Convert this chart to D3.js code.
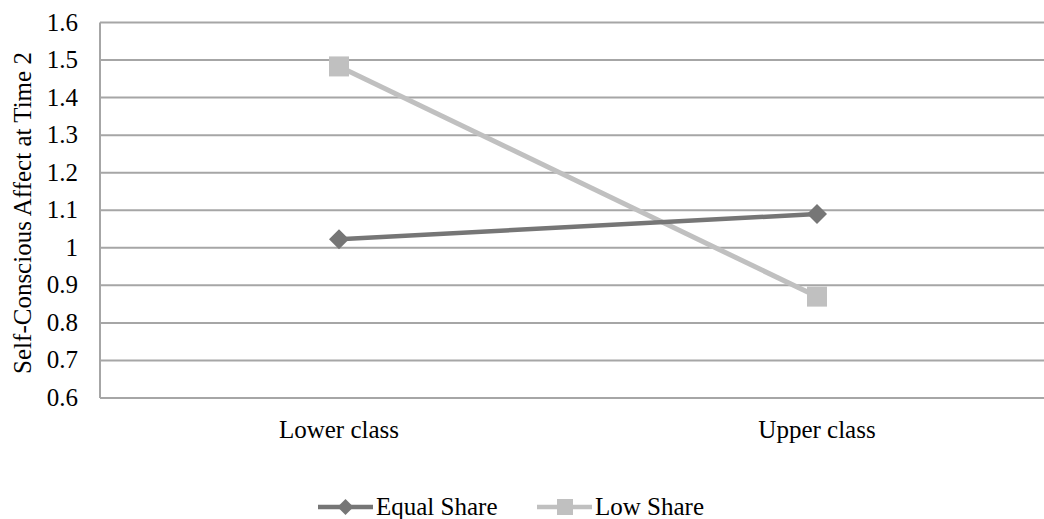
<!DOCTYPE html>
<html>
<head>
<meta charset="utf-8">
<script src="https://cdn.jsdelivr.net/npm/d3@7"></script>
<style>
  body { margin: 0; background: #fff; }
</style>
</head>
<body>
<div id="chart"></div>
<script>
// Data
const categories = ["Lower class", "Upper class"];
const seriesNames = ["Equal Share", "Low Share"];
const equalShare = [1.023, 1.09];
const lowShare = [1.483, 0.87];
const yTicks = [0.6, 0.7, 0.8, 0.9, 1, 1.1, 1.2, 1.3, 1.4, 1.5, 1.6];

const width = 1044, height = 519;
const margin = { top: 22.5, right: -12, bottom: 121, left: 100 };
const FONT = "'Liberation Serif'";
const FS = 25;

const colors = { "Equal Share": "#767676", "Low Share": "#c0c0c0" };

const svg = d3.select("#chart").append("svg")
  .attr("width", width)
  .attr("height", height);

const x = d3.scaleBand()
  .domain(categories)
  .range([margin.left, width - margin.right]);

const y = d3.scaleLinear()
  .domain([0.6, 1.6])
  .range([height - margin.bottom, margin.top]);

// gridlines
svg.append("g")
  .selectAll("line")
  .data(yTicks)
  .join("line")
  .attr("x1", margin.left)
  .attr("x2", width)
  .attr("y1", d => y(d))
  .attr("y2", d => y(d))
  .attr("stroke", "#a6a6a6")
  .attr("stroke-width", 2);

// y axis line
svg.append("line")
  .attr("x1", margin.left).attr("x2", margin.left)
  .attr("y1", y(1.6)).attr("y2", y(0.6))
  .attr("stroke", "#a6a6a6")
  .attr("stroke-width", 2);

// y tick labels
svg.append("g")
  .selectAll("text")
  .data(yTicks)
  .join("text")
  .attr("x", 78)
  .attr("y", d => y(d) + 8)
  .attr("text-anchor", "end")
  .text(d => d3.format("")(d));

// category labels
svg.append("g")
  .selectAll("text")
  .data(categories)
  .join("text")
  .attr("x", d => x(d) + x.bandwidth() / 2)
  .attr("y", 438)
  .attr("text-anchor", "middle")
  .text(d => d);

// y axis title
svg.append("text")
  .attr("transform", `translate(31,213) rotate(-90)`)
  .attr("text-anchor", "middle")
  .text("Self-Conscious Affect at Time 2");

const series = [
  { name: "Equal Share", values: equalShare, shape: "diamond" },
  { name: "Low Share", values: lowShare, shape: "square" }
];

const line = d3.line()
  .x((d, i) => x(categories[i]) + x.bandwidth() / 2)
  .y(d => y(d));

function drawMarker(g, shape, cx, cy, color) {
  if (shape === "diamond") {
    g.append("path")
      .attr("d", `M${cx},${cy - 10}L${cx + 10},${cy}L${cx},${cy + 10}L${cx - 10},${cy}Z`)
      .attr("fill", color);
  } else {
    g.append("rect")
      .attr("x", cx - 10).attr("y", cy - 10)
      .attr("width", 20).attr("height", 20)
      .attr("fill", color);
  }
}

// Low share drawn first so Equal Share sits on top where they cross
series.slice().reverse().forEach(s => {
  const g = svg.append("g");
  g.append("path")
    .datum(s.values)
    .attr("d", line)
    .attr("fill", "none")
    .attr("stroke", colors[s.name])
    .attr("stroke-width", s.name === "Low Share" ? 5 : 4.5);
  s.values.forEach((v, i) => {
    drawMarker(g, s.shape, x(categories[i]) + x.bandwidth() / 2, y(v), colors[s.name]);
  });
});

// legend
const legendX = [318, 537];
series.forEach((s, i) => {
  const lx = legendX[i], ly = 507;
  svg.append("line")
    .attr("x1", lx).attr("x2", lx + 55)
    .attr("y1", ly).attr("y2", ly)
    .attr("stroke", colors[s.name])
    .attr("stroke-width", 4.5);
  if (s.shape === "diamond") {
    svg.append("path").attr("d", `M${lx + 27.5},${ly - 8}l8,8l-8,8l-8,-8Z`).attr("fill", colors[s.name]);
  } else {
    svg.append("rect").attr("x", lx + 20).attr("y", ly - 8).attr("width", 16).attr("height", 16).attr("fill", colors[s.name]);
  }
  svg.append("text")
    .attr("x", lx + 58)
    .attr("y", ly + 8)
    .text(s.name);
});

// font on every label, set again once fonts report ready
function setFonts() {
  svg.selectAll("text")
    .attr("font-family", "Liberation Serif")
    .style("font-family", FONT)
    .style("font-size", FS + "px")
    .attr("fill", "#000");
}
setFonts();
document.fonts.ready.then(setFonts);
</script>
</body>
</html>
